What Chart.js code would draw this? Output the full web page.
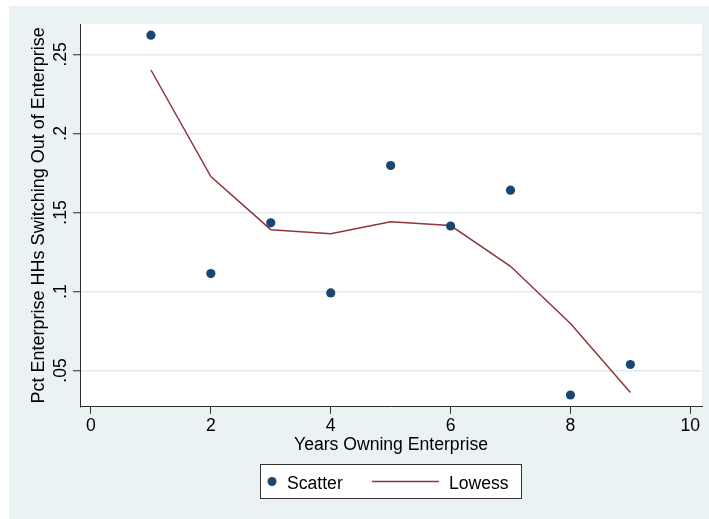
<!DOCTYPE html>
<html>
<head>
<meta charset="utf-8">
<script src="https://cdn.jsdelivr.net/npm/chart.js@4/dist/chart.umd.min.js"></script>
<style>
  html, body { margin: 0; padding: 0; background: #ffffff; }
  #wrap { width: 709px; height: 519px; position: relative; }
</style>
</head>
<body>
<div id="wrap"><canvas id="c" width="709" height="519"></canvas></div>
<script>
// Years owning an enterprise
const years = [1, 2, 3, 4, 5, 6, 7, 8, 9];
// Share of enterprise households switching out, by year
const scatterValues = [0.2621, 0.1113, 0.1434, 0.0991, 0.1797, 0.1414, 0.1641, 0.0345, 0.0538];
// Lowess smoother through the same points
const lowessValues = [0.2401, 0.1727, 0.1391, 0.1365, 0.1441, 0.1417, 0.1159, 0.0797, 0.0361];

const xTicks = [0, 2, 4, 6, 8, 10];
const yTicks = [0.05, 0.10, 0.15, 0.20, 0.25];
const yTickLabels = ['.05', '.1', '.15', '.2', '.25'];

const seriesNames = ['Scatter', 'Lowess'];
const xTitle = 'Years Owning Enterprise';
const yTitle = 'Pct Enterprise HHs Switching Out of Enterprise';

const FONT = '"Liberation Sans", Arial, Helvetica, sans-serif';
const FS = 17.6;
const BG = '#EAF2F3';
const NAVY = '#1A476F';
const MAROON = '#90353B';
const AXIS = '#2b2b2b';

const pairs = (xs, ys) => xs.map((x, i) => ({ x: x, y: ys[i] }));

// Stata-like backdrop: light frame, white plot region
const backdrop = {
  id: 'backdrop',
  beforeDraw(chart) {
    const { ctx, chartArea: a } = chart;
    ctx.save();
    ctx.fillStyle = '#ffffff';
    ctx.fillRect(0, 0, chart.width, chart.height);
    ctx.fillStyle = BG;
    ctx.fillRect(9, 6, chart.width - 9, chart.height - 6);
    ctx.fillStyle = '#ffffff';
    ctx.fillRect(a.left, a.top, a.right - a.left, a.bottom - a.top);
    ctx.restore();
  }
};

// Rotated y tick labels, reading upward
const yLabels = {
  id: 'yLabels',
  afterDraw(chart) {
    const { ctx } = chart;
    const s = chart.scales.y;
    ctx.save();
    ctx.fillStyle = '#000000';
    ctx.font = FS + 'px ' + FONT;
    ctx.textAlign = 'center';
    ctx.textBaseline = 'alphabetic';
    s.ticks.forEach((t) => {
      const y = s.getPixelForValue(t.value);
      ctx.save();
      ctx.translate(65.5, y);
      ctx.rotate(-Math.PI / 2);
      ctx.fillText(t.label, 0, 0);
      ctx.restore();
    });
    ctx.restore();
  }
};

// Boxed legend under the axis title
const boxLegend = {
  id: 'boxLegend',
  afterDraw(chart) {
    const { ctx } = chart;
    const ds = chart.data.datasets;
    const box = { x: 260.5, y: 464.5, w: 261, h: 34 };
    const cy = box.y + box.h / 2;
    ctx.save();
    ctx.fillStyle = '#ffffff';
    ctx.fillRect(box.x, box.y, box.w, box.h);
    ctx.strokeStyle = '#333333';
    ctx.lineWidth = 1;
    ctx.strokeRect(box.x, box.y, box.w, box.h);

    ctx.fillStyle = ds[0].backgroundColor;
    ctx.beginPath();
    ctx.arc(272, cy, 4.5, 0, Math.PI * 2);
    ctx.fill();

    ctx.strokeStyle = ds[1].borderColor;
    ctx.lineWidth = ds[1].borderWidth;
    ctx.beginPath();
    ctx.moveTo(372, cy);
    ctx.lineTo(439, cy);
    ctx.stroke();

    ctx.fillStyle = '#000000';
    ctx.font = FS + 'px ' + FONT;
    ctx.textAlign = 'left';
    ctx.textBaseline = 'alphabetic';
    ctx.fillText(ds[0].label, 287, 489);
    ctx.fillText(ds[1].label, 449, 489);
    ctx.restore();
  }
};

new Chart(document.getElementById('c'), {
  type: 'scatter',
  data: {
    datasets: [
      {
        label: seriesNames[0],
        data: pairs(years, scatterValues),
        backgroundColor: NAVY,
        borderColor: NAVY,
        pointRadius: 4.6,
        pointBorderWidth: 0,
        showLine: false,
        order: 1
      },
      {
        label: seriesNames[1],
        data: pairs(years, lowessValues),
        borderColor: MAROON,
        backgroundColor: MAROON,
        borderWidth: 1.5,
        pointRadius: 0,
        showLine: true,
        tension: 0,
        order: 2
      }
    ]
  },
  options: {
    responsive: false,
    animation: false,
    devicePixelRatio: 1,
    layout: { padding: { left: 0, top: 24, right: 7, bottom: 0 } },
    plugins: {
      legend: { display: false },
      tooltip: { enabled: false }
    },
    scales: {
      x: {
        type: 'linear',
        min: -0.1835,
        max: 10.195,
        afterBuildTicks(s) { s.ticks = xTicks.map((v) => ({ value: v })); },
        afterFit(s) { s.height = 112.3; },
        grid: { drawOnChartArea: false, tickLength: 7, tickColor: AXIS, tickWidth: 1 },
        border: { color: AXIS, width: 1 },
        ticks: {
          color: '#000000',
          padding: 2,
          maxRotation: 0,
          font: { family: FONT, size: FS },
          callback: (v) => String(v)
        },
        title: {
          display: true,
          text: xTitle,
          color: '#000000',
          font: { family: FONT, size: FS },
          padding: { top: 0, bottom: 63.3 }
        }
      },
      y: {
        type: 'linear',
        min: 0.0271,
        max: 0.2692,
        afterBuildTicks(s) { s.ticks = yTicks.map((v) => ({ value: v })); },
        afterFit(s) { s.width = 80; },
        grid: { color: '#E1EAED', lineWidth: 1.5, tickLength: 7, tickColor: AXIS, tickWidth: 1 },
        border: { color: AXIS, width: 1 },
        ticks: {
          color: 'rgba(0,0,0,0)',
          font: { family: FONT, size: FS },
          callback: (v) => {
            const i = yTicks.findIndex((t) => Math.abs(t - v) < 1e-9);
            return i >= 0 ? yTickLabels[i] : '';
          }
        },
        title: {
          display: true,
          text: yTitle,
          color: '#000000',
          font: { family: FONT, size: 18 },
          padding: { top: 28, bottom: 0 }
        }
      }
    }
  },
  plugins: [backdrop, yLabels, boxLegend]
});
</script>
</body>
</html>
